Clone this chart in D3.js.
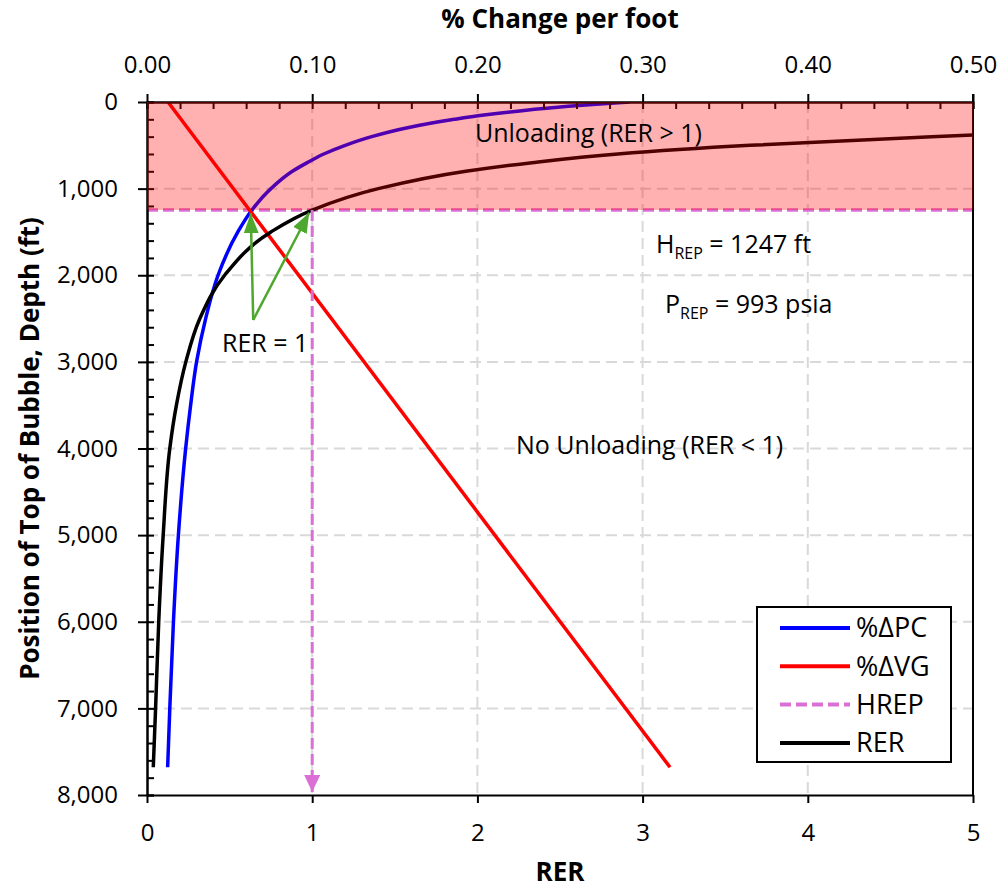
<!DOCTYPE html>
<html>
<head>
<meta charset="utf-8">
<script src="https://cdn.jsdelivr.net/npm/d3@7"></script>
<style>
    body{margin:0;background:#fff;}
    svg text{font-family:"Open Sans",sans-serif;fill:#000;}
</style>
</head>
<body>
<svg id="chart" width="1001" height="891"></svg>
<script>
// depth of the top of the bubble (ft)
const depthTicks = [0, 1000, 2000, 3000, 4000, 5000, 6000, 7000, 8000];
const topTicks = [0, 0.1, 0.2, 0.3, 0.4, 0.5];
const rerTicks = [0, 1, 2, 3, 4, 5];

// %ΔPC curve (top axis, % change per foot)
const pcDepth = [0, 25, 50, 100, 150, 200, 300, 400, 500, 600, 700, 800, 1000, 1247, 1500, 2000, 2500, 3000, 3500, 4000, 5000, 6000, 7000, 7680];
const pcValue = [0.292, 0.272, 0.255, 0.227, 0.204, 0.186, 0.157, 0.136, 0.120, 0.107, 0.097, 0.088, 0.075, 0.0635, 0.055, 0.043, 0.0355, 0.030, 0.0264, 0.0234, 0.019, 0.016, 0.0138, 0.0125];

// %ΔVG line (top axis)
const vgDepth = [0, 7680];
const vgValue = [0.0127, 0.3166];

// RER curve (bottom axis)
const rerDepth = [300, 350, 400, 500, 600, 700, 800, 1000, 1247, 1500, 2000, 2500, 3000, 3500, 4000, 5000, 6000, 7000, 7680];
const rerValue = [6.3, 5.45, 4.75, 3.65, 2.85, 2.33, 1.93, 1.40, 1.0, 0.75, 0.47, 0.32, 0.235, 0.178, 0.138, 0.098, 0.071, 0.052, 0.038];

// HREP
const hrep = 1247;
const hrepRer = 1;

// green arrows: [start RER, start depth, end RER, end depth]
const rerArrows = [[0.643, 2517, 0.628, 1285], [0.643, 2517, 0.982, 1278]];

const margin = {top:102, left:147, right:28, bottom:96};
const width = 1001 - margin.left - margin.right;
const height = 891 - margin.top - margin.bottom;

let svg = d3.select('#chart');
let g = svg.append('g').attr('transform', `translate(${margin.left},${margin.top})`);

let xTop = d3.scaleLinear().domain([0, 0.5]).range([0, width]);
let xRer = d3.scaleLinear().domain([0, 5]).range([0, width]);
let y = d3.scaleLinear().domain([0, 8000]).range([0, height]);

let defs = svg.append('defs');
defs.append('clipPath').attr('id', 'plotClip')
    .append('rect').attr('width', width).attr('height', height);
//三角箭头
defs.append('marker')
    .attr('id', 'hrepHead').attr('markerUnits', 'userSpaceOnUse')
    .attr('viewBox', '0 0 17 16').attr('refX', 17).attr('refY', 8)
    .attr('markerWidth', 17).attr('markerHeight', 16).attr('orient', 'auto')
    .append('path').attr('d', 'M0,0L17,8L0,16Z').attr('fill', '#DA70D6');
defs.append('marker')
    .attr('id', 'greenHead').attr('markerUnits', 'userSpaceOnUse')
    .attr('viewBox', '0 0 20 15').attr('refX', 20).attr('refY', 7.5)
    .attr('markerWidth', 20).attr('markerHeight', 15).attr('orient', 'auto')
    .append('path').attr('d', 'M0,0L20,7.5L0,15Z').attr('fill', '#4EA72E');

//网格线
let grid = g.append('g').attr('class', 'grid')
    .attr('stroke', '#D9D9D9').attr('stroke-width', 2).attr('stroke-dasharray', '11,6');
grid.selectAll('.gx').data(rerTicks.slice(1, -1)).enter().append('line')
    .attr('x1', d => xRer(d)).attr('x2', d => xRer(d)).attr('y1', 0).attr('y2', height);
grid.selectAll('.gy').data(depthTicks.slice(1, -1)).enter().append('line')
    .attr('x1', 0).attr('x2', width).attr('y1', d => y(d)).attr('y2', d => y(d));

let plot = g.append('g').attr('clip-path', 'url(#plotClip)');

// HREP dashed lines
plot.append('line')
    .attr('x1', xRer(0)).attr('x2', xRer(5)).attr('y1', y(hrep)).attr('y2', y(hrep))
    .attr('stroke', '#DA70D6').attr('stroke-width', 3.5).attr('stroke-dasharray', '11,5');
g.append('line')
    .attr('x1', xRer(hrepRer)).attr('x2', xRer(hrepRer)).attr('y1', y(hrep)).attr('y2', y(8000) - 3)
    .attr('stroke', '#DA70D6').attr('stroke-width', 3).attr('stroke-dasharray', '11,5')
    .attr('marker-end', 'url(#hrepHead)');

let pcLine = d3.line().x(d => xTop(d[1])).y(d => y(d[0])).curve(d3.curveMonotoneY);
let rerLine = d3.line().x(d => xRer(d[1])).y(d => y(d[0])).curve(d3.curveMonotoneY);

plot.append('path').datum(pcDepth.map((d, i) => [d, pcValue[i]]))
    .attr('d', pcLine).attr('fill', 'none').attr('stroke', '#0000FF').attr('stroke-width', 3.5);
plot.append('path').datum(vgDepth.map((d, i) => [d, vgValue[i]]))
    .attr('d', pcLine).attr('fill', 'none').attr('stroke', '#FF0000').attr('stroke-width', 3.5);
plot.append('path').datum(rerDepth.map((d, i) => [d, rerValue[i]]))
    .attr('d', rerLine).attr('fill', 'none').attr('stroke', '#000').attr('stroke-width', 3.5);

//坐标轴
function styleAxis(sel){
    sel.attr('font-family', '"Open Sans", sans-serif').attr('font-size', 24);
    sel.selectAll('.domain').attr('stroke', '#000').attr('stroke-width', 2);
    sel.selectAll('.tick line').attr('stroke', '#000').attr('stroke-width', 2);
}
let minorTop = d3.range(0, 0.5001, 0.02);
let minorY = d3.range(0, 8001, 200);

g.append('g').call(d3.axisTop(xTop).tickValues(minorTop).tickSize(-7).tickFormat('')).call(styleAxis);
g.append('g').call(d3.axisTop(xTop).tickValues(topTicks).tickSizeInner(8).tickSizeOuter(0).tickPadding(21).tickFormat(d3.format('.2f'))).call(styleAxis);

g.append('g').call(d3.axisLeft(y).tickValues(minorY).tickSize(-7).tickFormat('')).call(styleAxis);
g.append('g').call(d3.axisLeft(y).tickValues(depthTicks).tickSizeInner(9).tickSizeOuter(0).tickPadding(20).tickFormat(d3.format(','))).call(styleAxis);

g.append('g').attr('transform', `translate(0,${height})`)
    .call(d3.axisBottom(xRer).tickValues(rerTicks).tickSizeInner(8).tickSizeOuter(0).tickPadding(21).tickFormat(d3.format('d'))).call(styleAxis);

g.append('line').attr('x1', width).attr('x2', width).attr('y1', -8).attr('y2', height)
    .attr('stroke', '#000').attr('stroke-width', 2);

// Unloading zone
g.append('rect')
    .attr('x', xRer(0)).attr('y', y(0)).attr('width', xRer(5) - xRer(0)).attr('height', y(hrep) - y(0))
    .attr('fill', '#FF0000').attr('fill-opacity', 0.31);

//标题
svg.append('text').attr('x', margin.left + width / 2).attr('y', 28)
    .attr('text-anchor', 'middle').attr('font-size', 26).attr('font-weight', 'bold')
    .text('% Change per foot');
svg.append('text').attr('x', margin.left + width / 2).attr('y', 881)
    .attr('text-anchor', 'middle').attr('font-size', 26).attr('font-weight', 'bold')
    .text('RER');
svg.append('text').attr('transform', `translate(39,${margin.top + height / 2}) rotate(-90)`)
    .attr('text-anchor', 'middle').attr('font-size', 26).attr('font-weight', 'bold')
    .text('Position of Top of Bubble, Depth (ft)');

//注释文字
function note(x, yy, parts){
    let t = svg.append('text').attr('x', x).attr('y', yy).attr('font-size', 25);
    parts.forEach(p => {
        let s = t.append('tspan').text(p[0]);
        if(p[1] === 'sub'){
            s.attr('font-size', 16).attr('dy', 6);
        }else if(p[1] === 'back'){
            s.attr('dy', -6);
        }
    });
}
note(475, 142, [['Unloading (RER > 1)']]);
note(656, 253, [['H'], ['REP', 'sub'], [' = 1247 ft', 'back']]);
note(665, 313, [['P'], ['REP', 'sub'], [' = 993 psia', 'back']]);
note(516, 454, [['No Unloading (RER < 1)']]);
note(222, 352, [['RER = 1']]);

g.selectAll('.rerArrow').data(rerArrows).enter().append('line')
    .attr('x1', d => xRer(d[0])).attr('y1', d => y(d[1]))
    .attr('x2', d => xRer(d[2])).attr('y2', d => y(d[3]))
    .attr('stroke', '#4EA72E').attr('stroke-width', 2.5)
    .attr('marker-end', 'url(#greenHead)');

//图例
const legendItems = [
    {name:'%ΔPC', color:'#0000FF', dash:null},
    {name:'%ΔVG', color:'#FF0000', dash:null},
    {name:'HREP', color:'#DA70D6', dash:'11,5'},
    {name:'RER', color:'#000', dash:null}
];
let legend = svg.append('g').attr('transform', 'translate(757,607)');
legend.append('rect').attr('width', 194).attr('height', 155)
    .attr('fill', '#fff').attr('stroke', '#000').attr('stroke-width', 2);
let rows = legend.selectAll('.row').data(legendItems).enter().append('g')
    .attr('transform', (d, i) => `translate(0,${21 + i * 38.3})`);
rows.append('line').attr('x1', 23).attr('x2', 93)
    .attr('stroke', d => d.color).attr('stroke-width', 4)
    .attr('stroke-dasharray', d => d.dash);
rows.append('text').attr('x', 99).attr('dy', '0.35em').attr('font-size', 27)
    .text(d => d.name);
</script>
</body>
</html>
